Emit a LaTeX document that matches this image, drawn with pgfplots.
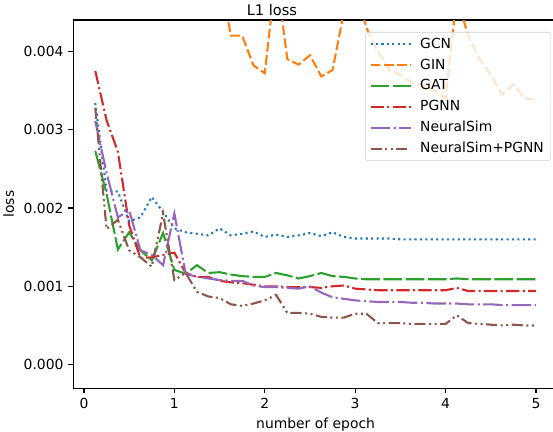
\documentclass[border=0pt]{standalone}
\usepackage{pgfplots}
\pgfplotsset{compat=1.18}
\usepackage{pgfplotstable}
\usepackage{fontspec}
\setmainfont{DejaVu Sans}

\definecolor{c0}{HTML}{1F77B4}
\definecolor{c1}{HTML}{FF7F0E}
\definecolor{c2}{HTML}{2CA02C}
\definecolor{c3}{HTML}{D62728}
\definecolor{c4}{HTML}{9467BD}
\definecolor{c5}{HTML}{8C564B}

% loss per 1/8 epoch
\pgfplotstableread{
x     gcn     gin     gat     pgnn    ns      nsp
0.125 0.00334 0.0075  0.00273 0.00375 0.00311 0.00328
0.250 0.00222 0.0068  0.00218 0.00312 0.00245 0.00173
0.375 0.00221 0.0065  0.00147 0.00272 0.00188 0.00185
0.500 0.00183 0.0062  0.00169 0.00178 0.00197 0.00146
0.625 0.00188 0.0060  0.00146 0.00136 0.00146 0.00137
0.750 0.00214 0.0058  0.00133 0.00137 0.00140 0.00125
0.875 0.00195 0.0056  0.00168 0.00140 0.00127 0.00193
1.000 0.00174 0.0055  0.00121 0.00143 0.00193 0.00108
1.125 0.00169 0.0053  0.00116 0.00117 0.00116 0.00117
1.250 0.00167 0.0052  0.00127 0.00112 0.00112 0.00093
1.375 0.00165 0.0051  0.00117 0.00112 0.00110 0.00087
1.500 0.00174 0.0050  0.00118 0.00107 0.00108 0.00085
1.625 0.00165 0.00420 0.00115 0.00105 0.00107 0.00077
1.750 0.00167 0.00420 0.00113 0.00104 0.00107 0.00075
1.875 0.00170 0.00382 0.00112 0.00102 0.00101 0.00078
2.000 0.00163 0.00372 0.00112 0.00100 0.00099 0.00082
2.125 0.00166 0.0050  0.00117 0.00100 0.00099 0.00089
2.250 0.00163 0.00390 0.00114 0.00099 0.00098 0.00066
2.375 0.00165 0.00383 0.00110 0.00099 0.00097 0.00066
2.500 0.00168 0.00395 0.00113 0.00099 0.00100 0.00065
2.625 0.00164 0.00368 0.00117 0.00098 0.00092 0.00061
2.750 0.00169 0.00376 0.00113 0.00100 0.00086 0.00060
2.875 0.00163 0.0045  0.00112 0.00101 0.00084 0.00060
3.000 0.00161 0.0048  0.00110 0.00097 0.00082 0.00065
3.125 0.00161 0.0043  0.00109 0.00096 0.00081 0.00065
3.250 0.00161 0.0040  0.00109 0.00095 0.00080 0.00053
3.375 0.00161 0.00376 0.00109 0.00095 0.00080 0.00053
3.500 0.00160 0.0037  0.00109 0.00095 0.00080 0.00053
3.625 0.00160 0.0036  0.00109 0.00095 0.00079 0.00052
3.750 0.00160 0.00356 0.00109 0.00095 0.00079 0.00052
3.875 0.00160 0.0035  0.00109 0.00095 0.00078 0.00052
4.000 0.00160 0.0034  0.00109 0.00095 0.00078 0.00052
4.125 0.00160 0.0047  0.00110 0.00098 0.00078 0.00063
4.250 0.00160 0.0042  0.00109 0.00094 0.00077 0.00053
4.375 0.00160 0.0039  0.00109 0.00094 0.00077 0.00052
4.500 0.00160 0.0037  0.00109 0.00094 0.00077 0.00051
4.625 0.00160 0.00345 0.00109 0.00094 0.00076 0.00050
4.750 0.00160 0.00358 0.00109 0.00094 0.00076 0.00051
4.875 0.00160 0.0034  0.00109 0.00094 0.00076 0.00050
5.000 0.00160 0.00338 0.00109 0.00094 0.00076 0.00050
}\losstable

\begin{document}
\begin{tikzpicture}
\begin{axis}[
  name=ax,
  scale only axis,
  width=349pt, height=265pt,
  xmin=-0.119, xmax=5.244,
  ymin=-0.0003, ymax=0.0044,
  xtick={0,1,...,5},
  ytick={0,0.001,0.002,0.003,0.004},
  scaled y ticks=false,
  yticklabel style={/pgf/number format/.cd, fixed, fixed zerofill, precision=3},
  /pgf/number format/assume math mode=true,
  tick align=outside,
  xtick pos=left, ytick pos=left,
  major tick length=3.5pt,
  every tick/.style={black, line width=0.8pt},
  axis line style={line width=0.8pt},
  tick label style={font=\fontsize{10}{12}\selectfont},
  label style={font=\fontsize{10}{12}\selectfont},
  xlabel={number of epoch},
  ylabel={loss},
  title={L1 loss},
  title style={at={(rel axis cs:0.41,1)}, anchor=base, yshift=-3pt, inner sep=0pt,
    font=\fontsize{10.5}{12}\selectfont},
  legend cell align=left,
  legend image code/.code={\draw[#1] (0pt,0pt) -- (29pt,0pt); \path (33pt,0pt);},
  legend style={at={(rel axis cs:1,1)}, anchor=north east, xshift=-5pt, yshift=-8.6pt,
    draw=black!20, rounded corners=2pt, fill=white, fill opacity=0.8, text opacity=1,
    font=\fontsize{10}{12}\selectfont, row sep=1.5pt,
    nodes={inner sep=2pt, text height=7.5pt, text depth=2pt}},
  every axis plot/.append style={line width=1.5pt},
]
\addplot[c0, dash pattern=on 1.5pt off 2.4pt] table[x=x, y=gcn] {\losstable};
\addlegendentry{GCN}
\addplot[c1, dash pattern=on 7pt off 2.5pt] table[x=x, y=gin] {\losstable};
\addlegendentry{GIN}
\addplot[c2, dash pattern=on 13.5pt off 2.5pt] table[x=x, y=gat] {\losstable};
\addlegendentry{GAT}
\addplot[c3, dash pattern=on 9.6pt off 2.4pt on 1.5pt off 2.4pt] table[x=x, y=pgnn] {\losstable};
\addlegendentry{PGNN}
\addplot[c4, dash pattern=on 14pt off 2.5pt on 1.5pt off 2.5pt] table[x=x, y=ns] {\losstable};
\addlegendentry{NeuralSim}
\addplot[c5, dash pattern=on 8pt off 2.5pt on 1.5pt off 2.5pt on 1.5pt off 2.5pt] table[x=x, y=nsp] {\losstable};
\addlegendentry{NeuralSim+PGNN}
\end{axis}
\pgfresetboundingbox
\path[use as bounding box] ([shift={(-52.7pt,-31pt)}]ax.south west) rectangle ([shift={(-3.6pt,14.4pt)}]ax.north east);
\end{tikzpicture}
\end{document}
